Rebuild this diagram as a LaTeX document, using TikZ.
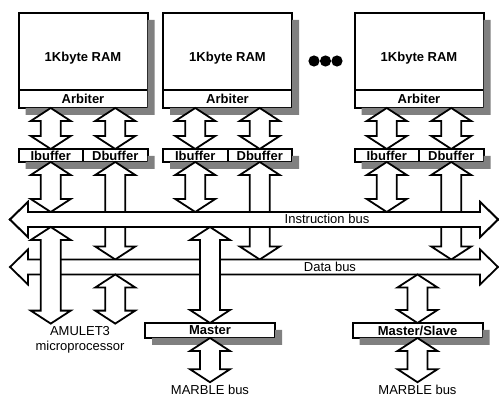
\documentclass[tikz,border=0pt]{standalone}
\usepackage{fontspec}
\setmainfont{Liberation Sans}
\usetikzlibrary{calc, positioning}

\newcommand\diagfont{\fontsize{13}{15}\selectfont}

% vertical double-headed block arrow, #1 top end, #2 bottom end
\newcommand\linkarrow[2]{%
  \path[blockarrow] let \p1=(#1), \p2=(#2) in
    (\x1,\y1) -- (\x1-20pt,\y1-13pt) -- (\x1-10pt,\y1-13pt) -- (\x1-10pt,\y2+13pt)
    -- (\x1-20pt,\y2+13pt) -- (\x1,\y2) -- (\x1+20pt,\y2+13pt) -- (\x1+10pt,\y2+13pt)
    -- (\x1+10pt,\y1-13pt) -- (\x1+20pt,\y1-13pt) -- cycle;}

% horizontal bus arrow drawn round the shaft node #1
\newcommand\busarrow[1]{%
  \path[blockarrow] let \p1=(#1.north west), \p2=(#1.south east) in
    (\x1,\y1) -- (\x2,\y1) -- (\x2,\y1+10pt) -- (\x2+18pt,\y1-7.5pt) -- (\x2,\y2-10pt) -- (\x2,\y2)
    -- (\x1,\y2) -- (\x1,\y2-10pt) -- (\x1-18pt,\y1-7.5pt) -- (\x1,\y1+10pt) -- cycle;}

% shadow strips right of and below a box; #1 holds its top right, #2 its bottom left corner
\newcommand\boxshade[2]{%
  \fill[boxshadow] let \p1=(#1.north east), \p2=(#2.south west) in
    (\x1,\y1-7pt) rectangle (\x1+7pt,\y2-7pt)
    (\x2+7pt,\y2) rectangle (\x1+7pt,\y2-7pt);}

\begin{document}
\begin{tikzpicture}[x=1pt, y=-1pt,
    every node/.style={font=\diagfont},
    box/.style={draw, line width=2pt, fill=white, font=\diagfont\bfseries, inner sep=0pt, outer sep=0pt},
    ram/.style={box, minimum width=129pt, minimum height=77pt},
    arbiter/.style={box, minimum width=129pt, minimum height=18pt},
    buffer/.style={box, minimum width=64.5pt, minimum height=13pt},
    port/.style={box, minimum width=130pt, minimum height=15pt},
    boxshadow/.style={fill=black!50},
    busbody/.style={inner sep=0pt, outer sep=0pt, minimum width=452pt, minimum height=15pt},
    lbl/.style={inner sep=0pt, outer sep=3pt},
    blockarrow/.style={draw, line width=1.8pt, fill=white, line join=miter},
]
    \useasboundingbox (0,0) rectangle (499,398);

    % bus shafts
    \node[busbody] (ibus) at (254,219.5) {};
    \node[busbody] (dbus) at (254,267) {};

    % memory blocks
    \foreach \i/\c in {1/83, 2/227.5, 3/419}
    {
        \node[ram, label={[font=\diagfont\bfseries, yshift=-6.5pt]center:1Kbyte RAM}] (ram\i) at (\c,51.5) {};
        \node[arbiter, below=0pt of ram\i] (arb\i) {Arbiter};
        \node[buffer] (ib\i) at ({\c-32.25},155.5) {Ibuffer};
        \node[buffer, right=0pt of ib\i] (db\i) {Dbuffer};
        \boxshade{ram\i}{arb\i}
        \boxshade{db\i}{ib\i}
        \linkarrow{arb\i.south -| ib\i}{ib\i.north}
        \linkarrow{arb\i.south -| db\i}{db\i.north}
        \linkarrow{db\i.south}{db\i.south |- dbus.north}
    }
    \foreach \dx in {314, 325.5, 337}
        \fill (\dx,61) circle (5.6pt);

    % buses
    \busarrow{dbus}
    \foreach \i in {1,2,3}
        \linkarrow{ib\i.south}{ib\i.south |- ibus.north}
    \busarrow{ibus}
    \node at (327,219) {Instruction bus};
    \node at (330,267) {Data bus};

    % processor and bus interfaces
    \node[lbl, align=center] (amulet) at (80,340) {AMULET3\\microprocessor};
    \node[port] (master) at (210,330.5) {Master};
    \node[port] (mslave) at (417.5,330.5) {Master/Slave};
    \node[lbl] (mb1) at (210,390) {MARBLE bus};
    \node[lbl] (mb2) at (417.5,390) {MARBLE bus};
    \boxshade{master}{master}
    \boxshade{mslave}{mslave}

    \linkarrow{ib1.south |- ibus.south}{ib1.south |- amulet.north}
    \linkarrow{db1.south |- dbus.south}{db1.south |- amulet.north}
    \linkarrow{master.north |- ibus.south}{master.north}
    \linkarrow{mslave.north |- dbus.south}{mslave.north}
    \linkarrow{master.south}{mb1.north}
    \linkarrow{mslave.south}{mb2.north}
\end{tikzpicture}
\end{document}
